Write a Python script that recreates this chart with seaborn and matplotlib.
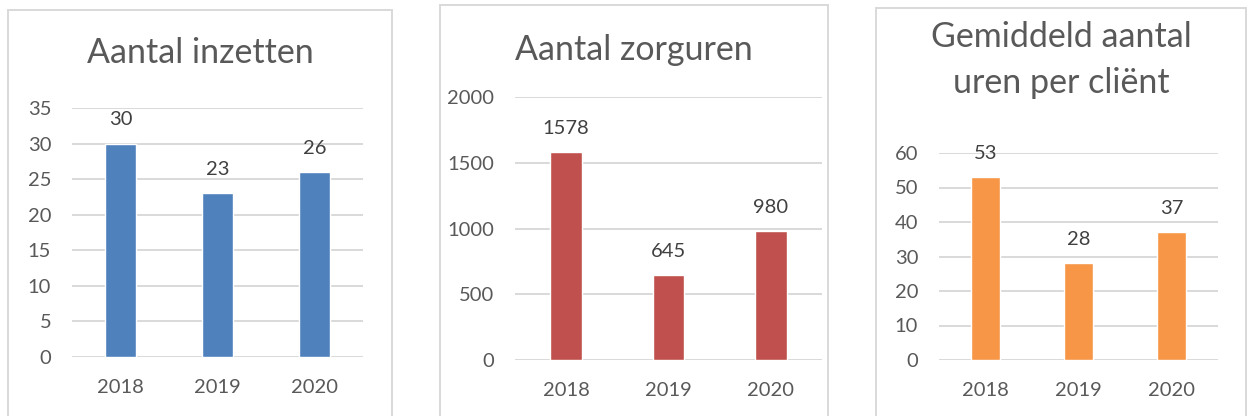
import matplotlib
matplotlib.use('Agg')
import matplotlib.pyplot as plt
from matplotlib.patches import Rectangle
import seaborn as sns
import pandas as pd

# Data
years = ['2018', '2019', '2020']
inzetten = [30, 23, 26]
zorguren = [1578, 645, 980]
uren_per_client = [53, 28, 37]

titles = ['Aantal inzetten', 'Aantal zorguren', 'Gemiddeld aantal\nuren per cliënt']
colors = ['#4F81BD', '#C0504D', '#F79646']
y_max = [35, 2000, 60]
y_step = [5, 500, 10]

TEXT = '#595959'
GRID = '#D9D9D9'
W, H = 1248, 416

sns.set_theme(style='white')
plt.rcParams['font.family'] = ['Lato', 'DejaVu Sans']

fig = plt.figure(figsize=(W / 100, H / 100), dpi=100)

def px_box(x0, y0, x1, y1):
    # pixel box (top-left origin) -> figure fraction [left, bottom, width, height]
    return [x0 / W, 1 - y1 / H, (x1 - x0) / W, (y1 - y0) / H]

# panel frames (bottom edge runs off the picture)
frames = [(8, 10, 392), (440, 5, 828), (876, 8, 1246)]
for x0, y0, x1 in frames:
    l, b, w, h = px_box(x0, y0, x1, H + 20)
    fig.patches.append(Rectangle((l, b), w, h, transform=fig.transFigure,
                                 fill=False, edgecolor=GRID, lw=1.4))

axes_px = [(72, 108, 363, 357), (515, 97, 822, 360), (939, 153, 1218, 360)]
bar_w = [0.32, 0.31, 0.31]
title_pos = [(200, 53), (634, 50), (1061, 60)]

series = [inzetten, zorguren, uren_per_client]
for i, vals in enumerate(series):
    ax = fig.add_axes(px_box(*axes_px[i]))
    df = pd.DataFrame({'jaar': years, 'waarde': vals})
    sns.barplot(data=df, x='jaar', y='waarde', color=colors[i], width=bar_w[i],
                saturation=1, ax=ax, zorder=3)
    ax.set_ylim(0, y_max[i])
    ax.set_xlim(-0.5, 2.5)
    ax.set_yticks(range(0, y_max[i] + 1, y_step[i]))
    ax.yaxis.grid(True, color=GRID, lw=1.4, zorder=0)
    ax.set_axisbelow(True)
    for s in ax.spines.values():
        s.set_visible(False)
    ax.set_xlabel('')
    ax.set_ylabel('')
    ax.tick_params(axis='y', length=0, pad=15, labelsize=14.5, labelcolor=TEXT)
    ax.tick_params(axis='x', length=0, pad=16, labelsize=14.5, labelcolor=TEXT)
    ax.bar_label(ax.containers[0], labels=[str(v) for v in vals], padding=11,
                 fontsize=14.5, color='#404040')
    ax.patch.set_alpha(0)
    tx, ty = title_pos[i]
    fig.text(tx / W, 1 - ty / H, titles[i], ha='center', va='center',
             fontsize=24.5, color=TEXT, linespacing=1.55)

fig.savefig('out.png', dpi=100)
